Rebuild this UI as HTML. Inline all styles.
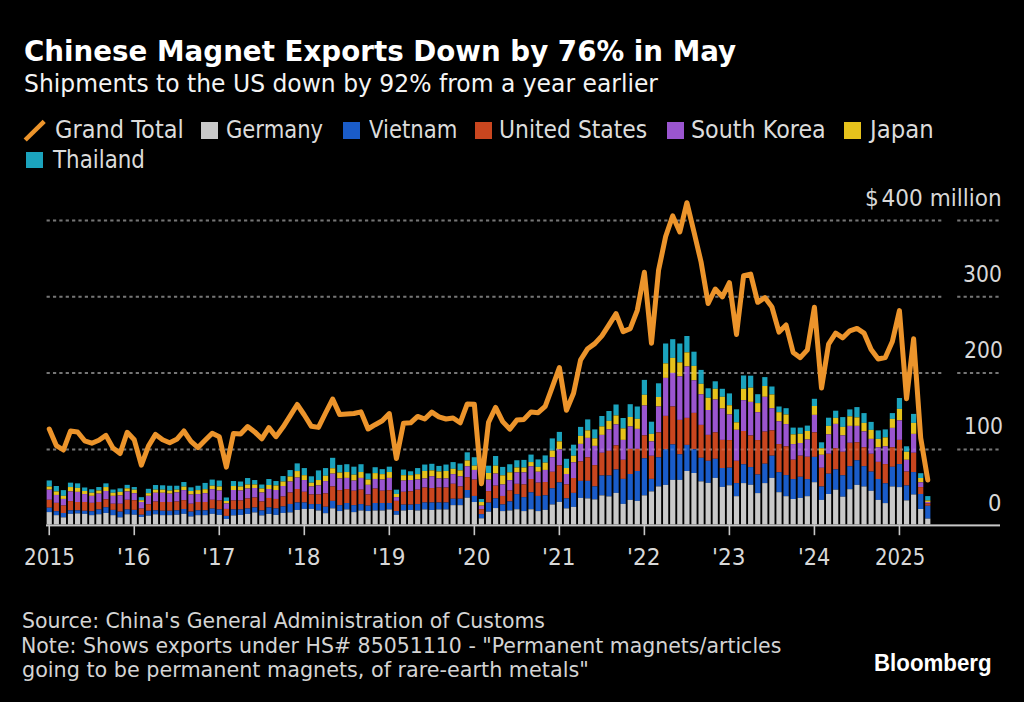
<!DOCTYPE html>
<html><head><meta charset="utf-8"><title>Chinese Magnet Exports Down by 76% in May</title>
<style>
html,body{margin:0;padding:0;background:#000;}
body{width:1024px;height:702px;position:relative;overflow:hidden;font-family:"DejaVu Sans","Liberation Sans",sans-serif;}
.t{position:absolute;white-space:nowrap;line-height:1;transform-origin:0 0;}
.sq{position:absolute;width:16.7px;height:16.5px;}
svg{position:absolute;left:0;top:0;}
.g{stroke:#ffffff;stroke-opacity:0.15;stroke-width:2;stroke-dasharray:3.2 3.168;}
.gb{stroke:#5e5e5e;stroke-width:2;stroke-dasharray:3.2 3.168;}
</style></head><body>
<svg width="1024" height="702" viewBox="0 0 1024 702">
<line x1="46.6" y1="220.5" x2="942" y2="220.5" class="gb"/>
<line x1="957.2" y1="220.5" x2="1000" y2="220.5" class="gb"/>
<line x1="46.6" y1="296.8" x2="942" y2="296.8" class="gb"/>
<line x1="957.2" y1="296.8" x2="1000" y2="296.8" class="gb"/>
<line x1="46.6" y1="373.0" x2="942" y2="373.0" class="gb"/>
<line x1="957.2" y1="373.0" x2="1000" y2="373.0" class="gb"/>
<line x1="46.6" y1="449.4" x2="942" y2="449.4" class="gb"/>
<line x1="957.2" y1="449.4" x2="1000" y2="449.4" class="gb"/>
<rect x="46.65" y="480.46" width="5.2" height="6.15" fill="#1ba3bd"/>
<rect x="46.65" y="486.61" width="5.2" height="3.08" fill="#e6c21c"/>
<rect x="46.65" y="489.69" width="5.2" height="10.11" fill="#9a55cf"/>
<rect x="46.65" y="499.80" width="5.2" height="7.91" fill="#c9461f"/>
<rect x="46.65" y="507.70" width="5.2" height="4.39" fill="#1a5cc9"/>
<rect x="46.65" y="512.10" width="5.2" height="12.30" fill="#c9c9c9"/>
<rect x="53.73" y="486.00" width="5.2" height="5.45" fill="#1ba3bd"/>
<rect x="53.73" y="491.45" width="5.2" height="3.51" fill="#e6c21c"/>
<rect x="53.73" y="494.96" width="5.2" height="7.91" fill="#9a55cf"/>
<rect x="53.73" y="502.87" width="5.2" height="8.35" fill="#c9461f"/>
<rect x="53.73" y="511.22" width="5.2" height="3.95" fill="#1a5cc9"/>
<rect x="53.73" y="515.17" width="5.2" height="9.23" fill="#c9c9c9"/>
<rect x="60.82" y="490.13" width="5.2" height="5.71" fill="#1ba3bd"/>
<rect x="60.82" y="495.84" width="5.2" height="3.08" fill="#e6c21c"/>
<rect x="60.82" y="498.92" width="5.2" height="6.59" fill="#9a55cf"/>
<rect x="60.82" y="505.51" width="5.2" height="7.47" fill="#c9461f"/>
<rect x="60.82" y="512.98" width="5.2" height="4.39" fill="#1a5cc9"/>
<rect x="60.82" y="517.37" width="5.2" height="7.03" fill="#c9c9c9"/>
<rect x="67.91" y="482.66" width="5.2" height="4.39" fill="#1ba3bd"/>
<rect x="67.91" y="487.05" width="5.2" height="4.39" fill="#e6c21c"/>
<rect x="67.91" y="491.45" width="5.2" height="9.67" fill="#9a55cf"/>
<rect x="67.91" y="501.11" width="5.2" height="9.23" fill="#c9461f"/>
<rect x="67.91" y="510.34" width="5.2" height="3.51" fill="#1a5cc9"/>
<rect x="67.91" y="513.86" width="5.2" height="10.54" fill="#c9c9c9"/>
<rect x="74.99" y="483.36" width="5.2" height="4.57" fill="#1ba3bd"/>
<rect x="74.99" y="487.93" width="5.2" height="3.95" fill="#e6c21c"/>
<rect x="74.99" y="491.89" width="5.2" height="10.11" fill="#9a55cf"/>
<rect x="74.99" y="501.99" width="5.2" height="8.35" fill="#c9461f"/>
<rect x="74.99" y="510.34" width="5.2" height="3.08" fill="#1a5cc9"/>
<rect x="74.99" y="513.42" width="5.2" height="10.98" fill="#c9c9c9"/>
<rect x="82.08" y="487.49" width="5.2" height="3.51" fill="#1ba3bd"/>
<rect x="82.08" y="491.01" width="5.2" height="3.08" fill="#e6c21c"/>
<rect x="82.08" y="494.08" width="5.2" height="7.91" fill="#9a55cf"/>
<rect x="82.08" y="501.99" width="5.2" height="8.79" fill="#c9461f"/>
<rect x="82.08" y="510.78" width="5.2" height="3.08" fill="#1a5cc9"/>
<rect x="82.08" y="513.86" width="5.2" height="10.54" fill="#c9c9c9"/>
<rect x="89.16" y="489.25" width="5.2" height="3.51" fill="#1ba3bd"/>
<rect x="89.16" y="492.77" width="5.2" height="3.08" fill="#e6c21c"/>
<rect x="89.16" y="495.84" width="5.2" height="7.03" fill="#9a55cf"/>
<rect x="89.16" y="502.87" width="5.2" height="8.35" fill="#c9461f"/>
<rect x="89.16" y="511.22" width="5.2" height="3.95" fill="#1a5cc9"/>
<rect x="89.16" y="515.17" width="5.2" height="9.23" fill="#c9c9c9"/>
<rect x="96.25" y="487.05" width="5.2" height="3.51" fill="#1ba3bd"/>
<rect x="96.25" y="490.57" width="5.2" height="3.08" fill="#e6c21c"/>
<rect x="96.25" y="493.64" width="5.2" height="8.35" fill="#9a55cf"/>
<rect x="96.25" y="501.99" width="5.2" height="7.47" fill="#c9461f"/>
<rect x="96.25" y="509.46" width="5.2" height="4.83" fill="#1a5cc9"/>
<rect x="96.25" y="514.29" width="5.2" height="10.11" fill="#c9c9c9"/>
<rect x="103.33" y="483.36" width="5.2" height="3.69" fill="#1ba3bd"/>
<rect x="103.33" y="487.05" width="5.2" height="3.95" fill="#e6c21c"/>
<rect x="103.33" y="491.01" width="5.2" height="8.35" fill="#9a55cf"/>
<rect x="103.33" y="499.36" width="5.2" height="7.91" fill="#c9461f"/>
<rect x="103.33" y="507.26" width="5.2" height="5.71" fill="#1a5cc9"/>
<rect x="103.33" y="512.98" width="5.2" height="11.42" fill="#c9c9c9"/>
<rect x="110.42" y="489.51" width="5.2" height="3.25" fill="#1ba3bd"/>
<rect x="110.42" y="492.77" width="5.2" height="3.08" fill="#e6c21c"/>
<rect x="110.42" y="495.84" width="5.2" height="7.91" fill="#9a55cf"/>
<rect x="110.42" y="503.75" width="5.2" height="6.15" fill="#c9461f"/>
<rect x="110.42" y="509.90" width="5.2" height="5.27" fill="#1a5cc9"/>
<rect x="110.42" y="515.17" width="5.2" height="9.23" fill="#c9c9c9"/>
<rect x="117.50" y="488.37" width="5.2" height="3.51" fill="#1ba3bd"/>
<rect x="117.50" y="491.89" width="5.2" height="3.51" fill="#e6c21c"/>
<rect x="117.50" y="495.40" width="5.2" height="8.35" fill="#9a55cf"/>
<rect x="117.50" y="503.75" width="5.2" height="7.91" fill="#c9461f"/>
<rect x="117.50" y="511.66" width="5.2" height="5.71" fill="#1a5cc9"/>
<rect x="117.50" y="517.37" width="5.2" height="7.03" fill="#c9c9c9"/>
<rect x="124.59" y="484.86" width="5.2" height="3.51" fill="#1ba3bd"/>
<rect x="124.59" y="488.37" width="5.2" height="3.08" fill="#e6c21c"/>
<rect x="124.59" y="491.45" width="5.2" height="8.35" fill="#9a55cf"/>
<rect x="124.59" y="499.80" width="5.2" height="9.67" fill="#c9461f"/>
<rect x="124.59" y="509.46" width="5.2" height="4.83" fill="#1a5cc9"/>
<rect x="124.59" y="514.29" width="5.2" height="10.11" fill="#c9c9c9"/>
<rect x="131.67" y="487.05" width="5.2" height="2.64" fill="#1ba3bd"/>
<rect x="131.67" y="489.69" width="5.2" height="3.51" fill="#e6c21c"/>
<rect x="131.67" y="493.20" width="5.2" height="7.03" fill="#9a55cf"/>
<rect x="131.67" y="500.23" width="5.2" height="9.67" fill="#c9461f"/>
<rect x="131.67" y="509.90" width="5.2" height="4.83" fill="#1a5cc9"/>
<rect x="131.67" y="514.73" width="5.2" height="9.67" fill="#c9c9c9"/>
<rect x="138.76" y="497.16" width="5.2" height="3.08" fill="#1ba3bd"/>
<rect x="138.76" y="500.23" width="5.2" height="1.76" fill="#e6c21c"/>
<rect x="138.76" y="501.99" width="5.2" height="6.59" fill="#9a55cf"/>
<rect x="138.76" y="508.58" width="5.2" height="6.15" fill="#c9461f"/>
<rect x="138.76" y="514.73" width="5.2" height="2.20" fill="#1a5cc9"/>
<rect x="138.76" y="516.93" width="5.2" height="7.47" fill="#c9c9c9"/>
<rect x="145.84" y="488.81" width="5.2" height="4.39" fill="#1ba3bd"/>
<rect x="145.84" y="493.20" width="5.2" height="2.64" fill="#e6c21c"/>
<rect x="145.84" y="495.84" width="5.2" height="8.35" fill="#9a55cf"/>
<rect x="145.84" y="504.19" width="5.2" height="6.59" fill="#c9461f"/>
<rect x="145.84" y="510.78" width="5.2" height="4.83" fill="#1a5cc9"/>
<rect x="145.84" y="515.61" width="5.2" height="8.79" fill="#c9c9c9"/>
<rect x="152.93" y="485.03" width="5.2" height="4.66" fill="#1ba3bd"/>
<rect x="152.93" y="489.69" width="5.2" height="3.08" fill="#e6c21c"/>
<rect x="152.93" y="492.77" width="5.2" height="8.79" fill="#9a55cf"/>
<rect x="152.93" y="501.55" width="5.2" height="8.79" fill="#c9461f"/>
<rect x="152.93" y="510.34" width="5.2" height="3.95" fill="#1a5cc9"/>
<rect x="152.93" y="514.29" width="5.2" height="10.11" fill="#c9c9c9"/>
<rect x="160.01" y="485.30" width="5.2" height="4.39" fill="#1ba3bd"/>
<rect x="160.01" y="489.69" width="5.2" height="3.08" fill="#e6c21c"/>
<rect x="160.01" y="492.77" width="5.2" height="9.23" fill="#9a55cf"/>
<rect x="160.01" y="501.99" width="5.2" height="8.79" fill="#c9461f"/>
<rect x="160.01" y="510.78" width="5.2" height="4.39" fill="#1a5cc9"/>
<rect x="160.01" y="515.17" width="5.2" height="9.23" fill="#c9c9c9"/>
<rect x="167.09" y="485.74" width="5.2" height="4.83" fill="#1ba3bd"/>
<rect x="167.09" y="490.57" width="5.2" height="3.08" fill="#e6c21c"/>
<rect x="167.09" y="493.64" width="5.2" height="8.35" fill="#9a55cf"/>
<rect x="167.09" y="501.99" width="5.2" height="8.79" fill="#c9461f"/>
<rect x="167.09" y="510.78" width="5.2" height="4.39" fill="#1a5cc9"/>
<rect x="167.09" y="515.17" width="5.2" height="9.23" fill="#c9c9c9"/>
<rect x="174.18" y="485.74" width="5.2" height="3.95" fill="#1ba3bd"/>
<rect x="174.18" y="489.69" width="5.2" height="2.64" fill="#e6c21c"/>
<rect x="174.18" y="492.33" width="5.2" height="9.23" fill="#9a55cf"/>
<rect x="174.18" y="501.55" width="5.2" height="8.79" fill="#c9461f"/>
<rect x="174.18" y="510.34" width="5.2" height="4.39" fill="#1a5cc9"/>
<rect x="174.18" y="514.73" width="5.2" height="9.67" fill="#c9c9c9"/>
<rect x="181.27" y="482.04" width="5.2" height="4.57" fill="#1ba3bd"/>
<rect x="181.27" y="486.61" width="5.2" height="3.51" fill="#e6c21c"/>
<rect x="181.27" y="490.13" width="5.2" height="10.11" fill="#9a55cf"/>
<rect x="181.27" y="500.23" width="5.2" height="8.79" fill="#c9461f"/>
<rect x="181.27" y="509.02" width="5.2" height="4.83" fill="#1a5cc9"/>
<rect x="181.27" y="513.86" width="5.2" height="10.54" fill="#c9c9c9"/>
<rect x="188.35" y="487.32" width="5.2" height="3.69" fill="#1ba3bd"/>
<rect x="188.35" y="491.01" width="5.2" height="3.51" fill="#e6c21c"/>
<rect x="188.35" y="494.52" width="5.2" height="9.23" fill="#9a55cf"/>
<rect x="188.35" y="503.75" width="5.2" height="7.91" fill="#c9461f"/>
<rect x="188.35" y="511.66" width="5.2" height="4.83" fill="#1a5cc9"/>
<rect x="188.35" y="516.49" width="5.2" height="7.91" fill="#c9c9c9"/>
<rect x="195.44" y="485.74" width="5.2" height="4.39" fill="#1ba3bd"/>
<rect x="195.44" y="490.13" width="5.2" height="3.95" fill="#e6c21c"/>
<rect x="195.44" y="494.08" width="5.2" height="7.91" fill="#9a55cf"/>
<rect x="195.44" y="501.99" width="5.2" height="8.35" fill="#c9461f"/>
<rect x="195.44" y="510.34" width="5.2" height="4.83" fill="#1a5cc9"/>
<rect x="195.44" y="515.17" width="5.2" height="9.23" fill="#c9c9c9"/>
<rect x="202.52" y="482.92" width="5.2" height="6.33" fill="#1ba3bd"/>
<rect x="202.52" y="489.25" width="5.2" height="3.95" fill="#e6c21c"/>
<rect x="202.52" y="493.20" width="5.2" height="8.79" fill="#9a55cf"/>
<rect x="202.52" y="501.99" width="5.2" height="8.35" fill="#c9461f"/>
<rect x="202.52" y="510.34" width="5.2" height="4.83" fill="#1a5cc9"/>
<rect x="202.52" y="515.17" width="5.2" height="9.23" fill="#c9c9c9"/>
<rect x="209.61" y="479.58" width="5.2" height="6.15" fill="#1ba3bd"/>
<rect x="209.61" y="485.74" width="5.2" height="3.51" fill="#e6c21c"/>
<rect x="209.61" y="489.25" width="5.2" height="10.54" fill="#9a55cf"/>
<rect x="209.61" y="499.80" width="5.2" height="8.79" fill="#c9461f"/>
<rect x="209.61" y="508.58" width="5.2" height="5.27" fill="#1a5cc9"/>
<rect x="209.61" y="513.86" width="5.2" height="10.54" fill="#c9c9c9"/>
<rect x="216.69" y="480.53" width="5.2" height="5.98" fill="#1ba3bd"/>
<rect x="216.69" y="486.51" width="5.2" height="3.99" fill="#e6c21c"/>
<rect x="216.69" y="490.50" width="5.2" height="9.97" fill="#9a55cf"/>
<rect x="216.69" y="500.47" width="5.2" height="8.97" fill="#c9461f"/>
<rect x="216.69" y="509.44" width="5.2" height="5.48" fill="#1a5cc9"/>
<rect x="216.69" y="514.93" width="5.2" height="9.47" fill="#c9c9c9"/>
<rect x="223.78" y="497.48" width="5.2" height="3.49" fill="#1ba3bd"/>
<rect x="223.78" y="500.97" width="5.2" height="2.49" fill="#e6c21c"/>
<rect x="223.78" y="503.46" width="5.2" height="5.48" fill="#9a55cf"/>
<rect x="223.78" y="508.95" width="5.2" height="6.98" fill="#c9461f"/>
<rect x="223.78" y="515.93" width="5.2" height="2.99" fill="#1a5cc9"/>
<rect x="223.78" y="518.92" width="5.2" height="5.48" fill="#c9c9c9"/>
<rect x="230.86" y="481.03" width="5.2" height="4.99" fill="#1ba3bd"/>
<rect x="230.86" y="486.02" width="5.2" height="3.99" fill="#e6c21c"/>
<rect x="230.86" y="490.00" width="5.2" height="10.47" fill="#9a55cf"/>
<rect x="230.86" y="500.47" width="5.2" height="8.97" fill="#c9461f"/>
<rect x="230.86" y="509.44" width="5.2" height="5.98" fill="#1a5cc9"/>
<rect x="230.86" y="515.43" width="5.2" height="8.97" fill="#c9c9c9"/>
<rect x="237.94" y="481.53" width="5.2" height="4.99" fill="#1ba3bd"/>
<rect x="237.94" y="486.51" width="5.2" height="3.99" fill="#e6c21c"/>
<rect x="237.94" y="490.50" width="5.2" height="9.97" fill="#9a55cf"/>
<rect x="237.94" y="500.47" width="5.2" height="8.97" fill="#c9461f"/>
<rect x="237.94" y="509.44" width="5.2" height="5.48" fill="#1a5cc9"/>
<rect x="237.94" y="514.93" width="5.2" height="9.47" fill="#c9c9c9"/>
<rect x="245.03" y="478.04" width="5.2" height="6.48" fill="#1ba3bd"/>
<rect x="245.03" y="484.52" width="5.2" height="3.99" fill="#e6c21c"/>
<rect x="245.03" y="488.51" width="5.2" height="9.97" fill="#9a55cf"/>
<rect x="245.03" y="498.48" width="5.2" height="9.97" fill="#c9461f"/>
<rect x="245.03" y="508.45" width="5.2" height="5.48" fill="#1a5cc9"/>
<rect x="245.03" y="513.93" width="5.2" height="10.47" fill="#c9c9c9"/>
<rect x="252.12" y="480.03" width="5.2" height="4.49" fill="#1ba3bd"/>
<rect x="252.12" y="484.52" width="5.2" height="3.49" fill="#e6c21c"/>
<rect x="252.12" y="488.01" width="5.2" height="9.47" fill="#9a55cf"/>
<rect x="252.12" y="497.48" width="5.2" height="9.97" fill="#c9461f"/>
<rect x="252.12" y="507.45" width="5.2" height="4.99" fill="#1a5cc9"/>
<rect x="252.12" y="512.44" width="5.2" height="11.96" fill="#c9c9c9"/>
<rect x="259.20" y="484.52" width="5.2" height="3.99" fill="#1ba3bd"/>
<rect x="259.20" y="488.51" width="5.2" height="3.99" fill="#e6c21c"/>
<rect x="259.20" y="492.50" width="5.2" height="8.97" fill="#9a55cf"/>
<rect x="259.20" y="501.47" width="5.2" height="8.97" fill="#c9461f"/>
<rect x="259.20" y="510.44" width="5.2" height="4.99" fill="#1a5cc9"/>
<rect x="259.20" y="515.43" width="5.2" height="8.97" fill="#c9c9c9"/>
<rect x="266.28" y="479.04" width="5.2" height="5.98" fill="#1ba3bd"/>
<rect x="266.28" y="485.02" width="5.2" height="3.99" fill="#e6c21c"/>
<rect x="266.28" y="489.01" width="5.2" height="8.97" fill="#9a55cf"/>
<rect x="266.28" y="497.98" width="5.2" height="9.47" fill="#c9461f"/>
<rect x="266.28" y="507.45" width="5.2" height="6.48" fill="#1a5cc9"/>
<rect x="266.28" y="513.93" width="5.2" height="10.47" fill="#c9c9c9"/>
<rect x="273.37" y="481.03" width="5.2" height="4.49" fill="#1ba3bd"/>
<rect x="273.37" y="485.52" width="5.2" height="4.49" fill="#e6c21c"/>
<rect x="273.37" y="490.00" width="5.2" height="8.97" fill="#9a55cf"/>
<rect x="273.37" y="498.98" width="5.2" height="9.47" fill="#c9461f"/>
<rect x="273.37" y="508.45" width="5.2" height="6.48" fill="#1a5cc9"/>
<rect x="273.37" y="514.93" width="5.2" height="9.47" fill="#c9c9c9"/>
<rect x="280.45" y="476.05" width="5.2" height="5.48" fill="#1ba3bd"/>
<rect x="280.45" y="481.53" width="5.2" height="4.49" fill="#e6c21c"/>
<rect x="280.45" y="486.02" width="5.2" height="10.47" fill="#9a55cf"/>
<rect x="280.45" y="496.48" width="5.2" height="9.97" fill="#c9461f"/>
<rect x="280.45" y="506.45" width="5.2" height="6.48" fill="#1a5cc9"/>
<rect x="280.45" y="512.93" width="5.2" height="11.47" fill="#c9c9c9"/>
<rect x="287.54" y="470.06" width="5.2" height="6.48" fill="#1ba3bd"/>
<rect x="287.54" y="476.54" width="5.2" height="4.99" fill="#e6c21c"/>
<rect x="287.54" y="481.53" width="5.2" height="10.97" fill="#9a55cf"/>
<rect x="287.54" y="492.50" width="5.2" height="11.47" fill="#c9461f"/>
<rect x="287.54" y="503.96" width="5.2" height="8.47" fill="#1a5cc9"/>
<rect x="287.54" y="512.44" width="5.2" height="11.96" fill="#c9c9c9"/>
<rect x="294.62" y="463.38" width="5.2" height="7.68" fill="#1ba3bd"/>
<rect x="294.62" y="471.06" width="5.2" height="6.48" fill="#e6c21c"/>
<rect x="294.62" y="477.54" width="5.2" height="11.47" fill="#9a55cf"/>
<rect x="294.62" y="489.01" width="5.2" height="13.46" fill="#c9461f"/>
<rect x="294.62" y="502.47" width="5.2" height="7.48" fill="#1a5cc9"/>
<rect x="294.62" y="509.94" width="5.2" height="14.46" fill="#c9c9c9"/>
<rect x="301.71" y="468.07" width="5.2" height="7.16" fill="#1ba3bd"/>
<rect x="301.71" y="475.23" width="5.2" height="4.81" fill="#e6c21c"/>
<rect x="301.71" y="480.04" width="5.2" height="11.76" fill="#9a55cf"/>
<rect x="301.71" y="491.80" width="5.2" height="10.69" fill="#c9461f"/>
<rect x="301.71" y="502.49" width="5.2" height="6.41" fill="#1a5cc9"/>
<rect x="301.71" y="508.90" width="5.2" height="15.50" fill="#c9c9c9"/>
<rect x="308.79" y="476.30" width="5.2" height="6.41" fill="#1ba3bd"/>
<rect x="308.79" y="482.72" width="5.2" height="3.74" fill="#e6c21c"/>
<rect x="308.79" y="486.46" width="5.2" height="8.02" fill="#9a55cf"/>
<rect x="308.79" y="494.47" width="5.2" height="9.62" fill="#c9461f"/>
<rect x="308.79" y="504.09" width="5.2" height="4.81" fill="#1a5cc9"/>
<rect x="308.79" y="508.90" width="5.2" height="15.50" fill="#c9c9c9"/>
<rect x="315.88" y="470.42" width="5.2" height="9.62" fill="#1ba3bd"/>
<rect x="315.88" y="480.04" width="5.2" height="5.34" fill="#e6c21c"/>
<rect x="315.88" y="485.39" width="5.2" height="9.09" fill="#9a55cf"/>
<rect x="315.88" y="494.47" width="5.2" height="9.62" fill="#c9461f"/>
<rect x="315.88" y="504.09" width="5.2" height="6.41" fill="#1a5cc9"/>
<rect x="315.88" y="510.51" width="5.2" height="13.89" fill="#c9c9c9"/>
<rect x="322.96" y="468.07" width="5.2" height="7.70" fill="#1ba3bd"/>
<rect x="322.96" y="475.77" width="5.2" height="5.34" fill="#e6c21c"/>
<rect x="322.96" y="481.11" width="5.2" height="12.29" fill="#9a55cf"/>
<rect x="322.96" y="493.40" width="5.2" height="13.36" fill="#c9461f"/>
<rect x="322.96" y="506.76" width="5.2" height="6.41" fill="#1a5cc9"/>
<rect x="322.96" y="513.18" width="5.2" height="11.22" fill="#c9c9c9"/>
<rect x="330.05" y="457.81" width="5.2" height="10.47" fill="#1ba3bd"/>
<rect x="330.05" y="468.29" width="5.2" height="5.34" fill="#e6c21c"/>
<rect x="330.05" y="473.63" width="5.2" height="12.83" fill="#9a55cf"/>
<rect x="330.05" y="486.46" width="5.2" height="14.43" fill="#c9461f"/>
<rect x="330.05" y="500.89" width="5.2" height="7.48" fill="#1a5cc9"/>
<rect x="330.05" y="508.37" width="5.2" height="16.03" fill="#c9c9c9"/>
<rect x="337.13" y="464.87" width="5.2" height="7.70" fill="#1ba3bd"/>
<rect x="337.13" y="472.56" width="5.2" height="5.88" fill="#e6c21c"/>
<rect x="337.13" y="478.44" width="5.2" height="11.76" fill="#9a55cf"/>
<rect x="337.13" y="490.20" width="5.2" height="14.96" fill="#c9461f"/>
<rect x="337.13" y="505.16" width="5.2" height="5.88" fill="#1a5cc9"/>
<rect x="337.13" y="511.04" width="5.2" height="13.36" fill="#c9c9c9"/>
<rect x="344.22" y="464.22" width="5.2" height="7.80" fill="#1ba3bd"/>
<rect x="344.22" y="472.03" width="5.2" height="5.88" fill="#e6c21c"/>
<rect x="344.22" y="477.91" width="5.2" height="11.22" fill="#9a55cf"/>
<rect x="344.22" y="489.13" width="5.2" height="13.89" fill="#c9461f"/>
<rect x="344.22" y="503.02" width="5.2" height="6.41" fill="#1a5cc9"/>
<rect x="344.22" y="509.44" width="5.2" height="14.96" fill="#c9c9c9"/>
<rect x="351.30" y="466.68" width="5.2" height="8.02" fill="#1ba3bd"/>
<rect x="351.30" y="474.70" width="5.2" height="5.88" fill="#e6c21c"/>
<rect x="351.30" y="480.58" width="5.2" height="10.15" fill="#9a55cf"/>
<rect x="351.30" y="490.73" width="5.2" height="14.43" fill="#c9461f"/>
<rect x="351.30" y="505.16" width="5.2" height="6.95" fill="#1a5cc9"/>
<rect x="351.30" y="512.11" width="5.2" height="12.29" fill="#c9c9c9"/>
<rect x="358.39" y="464.22" width="5.2" height="7.80" fill="#1ba3bd"/>
<rect x="358.39" y="472.03" width="5.2" height="5.88" fill="#e6c21c"/>
<rect x="358.39" y="477.91" width="5.2" height="11.76" fill="#9a55cf"/>
<rect x="358.39" y="489.66" width="5.2" height="14.43" fill="#c9461f"/>
<rect x="358.39" y="504.09" width="5.2" height="6.41" fill="#1a5cc9"/>
<rect x="358.39" y="510.51" width="5.2" height="13.89" fill="#c9c9c9"/>
<rect x="365.47" y="473.42" width="5.2" height="6.09" fill="#1ba3bd"/>
<rect x="365.47" y="479.51" width="5.2" height="5.34" fill="#e6c21c"/>
<rect x="365.47" y="484.85" width="5.2" height="9.62" fill="#9a55cf"/>
<rect x="365.47" y="494.47" width="5.2" height="11.22" fill="#c9461f"/>
<rect x="365.47" y="505.70" width="5.2" height="5.34" fill="#1a5cc9"/>
<rect x="365.47" y="511.04" width="5.2" height="13.36" fill="#c9c9c9"/>
<rect x="372.56" y="467.22" width="5.2" height="5.88" fill="#1ba3bd"/>
<rect x="372.56" y="473.10" width="5.2" height="5.88" fill="#e6c21c"/>
<rect x="372.56" y="478.97" width="5.2" height="9.62" fill="#9a55cf"/>
<rect x="372.56" y="488.59" width="5.2" height="14.43" fill="#c9461f"/>
<rect x="372.56" y="503.02" width="5.2" height="7.48" fill="#1a5cc9"/>
<rect x="372.56" y="510.51" width="5.2" height="13.89" fill="#c9c9c9"/>
<rect x="379.64" y="469.14" width="5.2" height="5.02" fill="#1ba3bd"/>
<rect x="379.64" y="474.16" width="5.2" height="5.34" fill="#e6c21c"/>
<rect x="379.64" y="479.51" width="5.2" height="11.22" fill="#9a55cf"/>
<rect x="379.64" y="490.73" width="5.2" height="12.29" fill="#c9461f"/>
<rect x="379.64" y="503.02" width="5.2" height="7.48" fill="#1a5cc9"/>
<rect x="379.64" y="510.51" width="5.2" height="13.89" fill="#c9c9c9"/>
<rect x="386.73" y="466.68" width="5.2" height="5.34" fill="#1ba3bd"/>
<rect x="386.73" y="472.03" width="5.2" height="5.88" fill="#e6c21c"/>
<rect x="386.73" y="477.91" width="5.2" height="12.29" fill="#9a55cf"/>
<rect x="386.73" y="490.20" width="5.2" height="12.83" fill="#c9461f"/>
<rect x="386.73" y="503.02" width="5.2" height="6.41" fill="#1a5cc9"/>
<rect x="386.73" y="509.44" width="5.2" height="14.96" fill="#c9c9c9"/>
<rect x="393.81" y="489.66" width="5.2" height="4.28" fill="#1ba3bd"/>
<rect x="393.81" y="493.94" width="5.2" height="3.21" fill="#e6c21c"/>
<rect x="393.81" y="497.14" width="5.2" height="3.74" fill="#9a55cf"/>
<rect x="393.81" y="500.89" width="5.2" height="10.15" fill="#c9461f"/>
<rect x="393.81" y="511.04" width="5.2" height="3.74" fill="#1a5cc9"/>
<rect x="393.81" y="514.78" width="5.2" height="9.62" fill="#c9c9c9"/>
<rect x="400.90" y="469.57" width="5.2" height="5.66" fill="#1ba3bd"/>
<rect x="400.90" y="475.23" width="5.2" height="5.34" fill="#e6c21c"/>
<rect x="400.90" y="480.58" width="5.2" height="11.22" fill="#9a55cf"/>
<rect x="400.90" y="491.80" width="5.2" height="12.83" fill="#c9461f"/>
<rect x="400.90" y="504.63" width="5.2" height="5.88" fill="#1a5cc9"/>
<rect x="400.90" y="510.51" width="5.2" height="13.89" fill="#c9c9c9"/>
<rect x="407.98" y="471.28" width="5.2" height="3.95" fill="#1ba3bd"/>
<rect x="407.98" y="475.23" width="5.2" height="4.81" fill="#e6c21c"/>
<rect x="407.98" y="480.04" width="5.2" height="11.22" fill="#9a55cf"/>
<rect x="407.98" y="491.27" width="5.2" height="13.36" fill="#c9461f"/>
<rect x="407.98" y="504.63" width="5.2" height="5.34" fill="#1a5cc9"/>
<rect x="407.98" y="509.97" width="5.2" height="14.43" fill="#c9c9c9"/>
<rect x="415.07" y="468.07" width="5.2" height="6.09" fill="#1ba3bd"/>
<rect x="415.07" y="474.16" width="5.2" height="5.34" fill="#e6c21c"/>
<rect x="415.07" y="479.51" width="5.2" height="10.15" fill="#9a55cf"/>
<rect x="415.07" y="489.66" width="5.2" height="14.43" fill="#c9461f"/>
<rect x="415.07" y="504.09" width="5.2" height="6.41" fill="#1a5cc9"/>
<rect x="415.07" y="510.51" width="5.2" height="13.89" fill="#c9c9c9"/>
<rect x="422.15" y="464.55" width="5.2" height="6.41" fill="#1ba3bd"/>
<rect x="422.15" y="470.96" width="5.2" height="7.48" fill="#e6c21c"/>
<rect x="422.15" y="478.44" width="5.2" height="9.09" fill="#9a55cf"/>
<rect x="422.15" y="487.53" width="5.2" height="14.96" fill="#c9461f"/>
<rect x="422.15" y="502.49" width="5.2" height="6.95" fill="#1a5cc9"/>
<rect x="422.15" y="509.44" width="5.2" height="14.96" fill="#c9c9c9"/>
<rect x="429.24" y="463.80" width="5.2" height="6.63" fill="#1ba3bd"/>
<rect x="429.24" y="470.42" width="5.2" height="5.88" fill="#e6c21c"/>
<rect x="429.24" y="476.30" width="5.2" height="11.76" fill="#9a55cf"/>
<rect x="429.24" y="488.06" width="5.2" height="14.43" fill="#c9461f"/>
<rect x="429.24" y="502.49" width="5.2" height="7.48" fill="#1a5cc9"/>
<rect x="429.24" y="509.97" width="5.2" height="14.43" fill="#c9c9c9"/>
<rect x="436.32" y="465.93" width="5.2" height="5.56" fill="#1ba3bd"/>
<rect x="436.32" y="471.49" width="5.2" height="6.95" fill="#e6c21c"/>
<rect x="436.32" y="478.44" width="5.2" height="9.09" fill="#9a55cf"/>
<rect x="436.32" y="487.53" width="5.2" height="14.96" fill="#c9461f"/>
<rect x="436.32" y="502.49" width="5.2" height="6.95" fill="#1a5cc9"/>
<rect x="436.32" y="509.44" width="5.2" height="14.96" fill="#c9c9c9"/>
<rect x="443.41" y="464.55" width="5.2" height="6.41" fill="#1ba3bd"/>
<rect x="443.41" y="470.96" width="5.2" height="7.48" fill="#e6c21c"/>
<rect x="443.41" y="478.44" width="5.2" height="9.09" fill="#9a55cf"/>
<rect x="443.41" y="487.53" width="5.2" height="14.96" fill="#c9461f"/>
<rect x="443.41" y="502.49" width="5.2" height="6.95" fill="#1a5cc9"/>
<rect x="443.41" y="509.44" width="5.2" height="14.96" fill="#c9c9c9"/>
<rect x="450.49" y="462.09" width="5.2" height="6.73" fill="#1ba3bd"/>
<rect x="450.49" y="468.82" width="5.2" height="5.34" fill="#e6c21c"/>
<rect x="450.49" y="474.16" width="5.2" height="9.62" fill="#9a55cf"/>
<rect x="450.49" y="483.78" width="5.2" height="14.96" fill="#c9461f"/>
<rect x="450.49" y="498.75" width="5.2" height="6.41" fill="#1a5cc9"/>
<rect x="450.49" y="505.16" width="5.2" height="19.24" fill="#c9c9c9"/>
<rect x="457.58" y="463.48" width="5.2" height="6.95" fill="#1ba3bd"/>
<rect x="457.58" y="470.42" width="5.2" height="5.88" fill="#e6c21c"/>
<rect x="457.58" y="476.30" width="5.2" height="10.15" fill="#9a55cf"/>
<rect x="457.58" y="486.46" width="5.2" height="12.29" fill="#c9461f"/>
<rect x="457.58" y="498.75" width="5.2" height="6.41" fill="#1a5cc9"/>
<rect x="457.58" y="505.16" width="5.2" height="19.24" fill="#c9c9c9"/>
<rect x="464.66" y="452.30" width="5.2" height="8.20" fill="#1ba3bd"/>
<rect x="464.66" y="460.50" width="5.2" height="5.80" fill="#e6c21c"/>
<rect x="464.66" y="466.30" width="5.2" height="10.90" fill="#9a55cf"/>
<rect x="464.66" y="477.20" width="5.2" height="12.80" fill="#c9461f"/>
<rect x="464.66" y="490.00" width="5.2" height="7.70" fill="#1a5cc9"/>
<rect x="464.66" y="497.70" width="5.2" height="26.70" fill="#c9c9c9"/>
<rect x="471.75" y="457.23" width="5.2" height="8.47" fill="#1ba3bd"/>
<rect x="471.75" y="465.70" width="5.2" height="4.24" fill="#e6c21c"/>
<rect x="471.75" y="469.94" width="5.2" height="9.68" fill="#9a55cf"/>
<rect x="471.75" y="479.62" width="5.2" height="16.34" fill="#c9461f"/>
<rect x="471.75" y="495.96" width="5.2" height="6.05" fill="#1a5cc9"/>
<rect x="471.75" y="502.01" width="5.2" height="22.39" fill="#c9c9c9"/>
<rect x="478.83" y="498.99" width="5.2" height="3.03" fill="#1ba3bd"/>
<rect x="478.83" y="502.01" width="5.2" height="3.63" fill="#e6c21c"/>
<rect x="478.83" y="505.64" width="5.2" height="3.63" fill="#9a55cf"/>
<rect x="478.83" y="509.27" width="5.2" height="4.84" fill="#c9461f"/>
<rect x="478.83" y="514.11" width="5.2" height="4.24" fill="#1a5cc9"/>
<rect x="478.83" y="518.35" width="5.2" height="6.05" fill="#c9c9c9"/>
<rect x="485.92" y="465.70" width="5.2" height="7.26" fill="#1ba3bd"/>
<rect x="485.92" y="472.97" width="5.2" height="6.66" fill="#e6c21c"/>
<rect x="485.92" y="479.62" width="5.2" height="11.50" fill="#9a55cf"/>
<rect x="485.92" y="491.12" width="5.2" height="11.50" fill="#c9461f"/>
<rect x="485.92" y="502.62" width="5.2" height="9.08" fill="#1a5cc9"/>
<rect x="485.92" y="511.69" width="5.2" height="12.71" fill="#c9c9c9"/>
<rect x="493.00" y="456.02" width="5.2" height="9.68" fill="#1ba3bd"/>
<rect x="493.00" y="465.70" width="5.2" height="7.87" fill="#e6c21c"/>
<rect x="493.00" y="473.57" width="5.2" height="12.10" fill="#9a55cf"/>
<rect x="493.00" y="485.67" width="5.2" height="12.71" fill="#c9461f"/>
<rect x="493.00" y="498.38" width="5.2" height="9.68" fill="#1a5cc9"/>
<rect x="493.00" y="508.06" width="5.2" height="16.34" fill="#c9c9c9"/>
<rect x="500.09" y="466.91" width="5.2" height="8.47" fill="#1ba3bd"/>
<rect x="500.09" y="475.39" width="5.2" height="9.08" fill="#e6c21c"/>
<rect x="500.09" y="484.46" width="5.2" height="11.50" fill="#9a55cf"/>
<rect x="500.09" y="495.96" width="5.2" height="8.47" fill="#c9461f"/>
<rect x="500.09" y="504.43" width="5.2" height="6.66" fill="#1a5cc9"/>
<rect x="500.09" y="511.09" width="5.2" height="13.31" fill="#c9c9c9"/>
<rect x="507.17" y="464.25" width="5.2" height="8.11" fill="#1ba3bd"/>
<rect x="507.17" y="472.36" width="5.2" height="7.87" fill="#e6c21c"/>
<rect x="507.17" y="480.23" width="5.2" height="10.29" fill="#9a55cf"/>
<rect x="507.17" y="490.51" width="5.2" height="10.89" fill="#c9461f"/>
<rect x="507.17" y="501.41" width="5.2" height="9.08" fill="#1a5cc9"/>
<rect x="507.17" y="510.48" width="5.2" height="13.92" fill="#c9c9c9"/>
<rect x="514.26" y="460.26" width="5.2" height="7.26" fill="#1ba3bd"/>
<rect x="514.26" y="467.52" width="5.2" height="4.84" fill="#e6c21c"/>
<rect x="514.26" y="472.36" width="5.2" height="11.50" fill="#9a55cf"/>
<rect x="514.26" y="483.86" width="5.2" height="10.29" fill="#c9461f"/>
<rect x="514.26" y="494.14" width="5.2" height="15.13" fill="#1a5cc9"/>
<rect x="514.26" y="509.27" width="5.2" height="15.13" fill="#c9c9c9"/>
<rect x="521.34" y="459.90" width="5.2" height="7.62" fill="#1ba3bd"/>
<rect x="521.34" y="467.52" width="5.2" height="4.84" fill="#e6c21c"/>
<rect x="521.34" y="472.36" width="5.2" height="12.10" fill="#9a55cf"/>
<rect x="521.34" y="484.46" width="5.2" height="12.71" fill="#c9461f"/>
<rect x="521.34" y="497.17" width="5.2" height="13.92" fill="#1a5cc9"/>
<rect x="521.34" y="511.09" width="5.2" height="13.31" fill="#c9c9c9"/>
<rect x="528.43" y="454.57" width="5.2" height="7.50" fill="#1ba3bd"/>
<rect x="528.43" y="462.07" width="5.2" height="4.24" fill="#e6c21c"/>
<rect x="528.43" y="466.31" width="5.2" height="12.71" fill="#9a55cf"/>
<rect x="528.43" y="479.02" width="5.2" height="13.31" fill="#c9461f"/>
<rect x="528.43" y="492.33" width="5.2" height="16.94" fill="#1a5cc9"/>
<rect x="528.43" y="509.27" width="5.2" height="15.13" fill="#c9c9c9"/>
<rect x="535.51" y="459.41" width="5.2" height="7.50" fill="#1ba3bd"/>
<rect x="535.51" y="466.91" width="5.2" height="4.84" fill="#e6c21c"/>
<rect x="535.51" y="471.76" width="5.2" height="10.89" fill="#9a55cf"/>
<rect x="535.51" y="482.65" width="5.2" height="13.31" fill="#c9461f"/>
<rect x="535.51" y="495.96" width="5.2" height="15.13" fill="#1a5cc9"/>
<rect x="535.51" y="511.09" width="5.2" height="13.31" fill="#c9c9c9"/>
<rect x="542.60" y="455.42" width="5.2" height="7.26" fill="#1ba3bd"/>
<rect x="542.60" y="462.68" width="5.2" height="7.26" fill="#e6c21c"/>
<rect x="542.60" y="469.94" width="5.2" height="12.10" fill="#9a55cf"/>
<rect x="542.60" y="482.04" width="5.2" height="13.31" fill="#c9461f"/>
<rect x="542.60" y="495.35" width="5.2" height="14.52" fill="#1a5cc9"/>
<rect x="542.60" y="509.88" width="5.2" height="14.52" fill="#c9c9c9"/>
<rect x="549.69" y="438.40" width="5.2" height="12.20" fill="#1ba3bd"/>
<rect x="549.69" y="450.60" width="5.2" height="6.60" fill="#e6c21c"/>
<rect x="549.69" y="457.20" width="5.2" height="14.60" fill="#9a55cf"/>
<rect x="549.69" y="471.80" width="5.2" height="16.50" fill="#c9461f"/>
<rect x="549.69" y="488.30" width="5.2" height="16.20" fill="#1a5cc9"/>
<rect x="549.69" y="504.50" width="5.2" height="19.90" fill="#c9c9c9"/>
<rect x="556.77" y="431.90" width="5.2" height="9.50" fill="#1ba3bd"/>
<rect x="556.77" y="441.40" width="5.2" height="8.00" fill="#e6c21c"/>
<rect x="556.77" y="449.40" width="5.2" height="16.00" fill="#9a55cf"/>
<rect x="556.77" y="465.40" width="5.2" height="17.00" fill="#c9461f"/>
<rect x="556.77" y="482.40" width="5.2" height="19.50" fill="#1a5cc9"/>
<rect x="556.77" y="501.90" width="5.2" height="22.50" fill="#c9c9c9"/>
<rect x="563.86" y="458.80" width="5.2" height="9.20" fill="#1ba3bd"/>
<rect x="563.86" y="468.00" width="5.2" height="6.00" fill="#e6c21c"/>
<rect x="563.86" y="474.00" width="5.2" height="10.40" fill="#9a55cf"/>
<rect x="563.86" y="484.40" width="5.2" height="14.00" fill="#c9461f"/>
<rect x="563.86" y="498.40" width="5.2" height="10.00" fill="#1a5cc9"/>
<rect x="563.86" y="508.40" width="5.2" height="16.00" fill="#c9c9c9"/>
<rect x="570.94" y="444.70" width="5.2" height="11.10" fill="#1ba3bd"/>
<rect x="570.94" y="455.80" width="5.2" height="6.50" fill="#e6c21c"/>
<rect x="570.94" y="462.30" width="5.2" height="15.70" fill="#9a55cf"/>
<rect x="570.94" y="478.00" width="5.2" height="14.90" fill="#c9461f"/>
<rect x="570.94" y="492.90" width="5.2" height="14.00" fill="#1a5cc9"/>
<rect x="570.94" y="506.90" width="5.2" height="17.50" fill="#c9c9c9"/>
<rect x="578.02" y="426.90" width="5.2" height="9.00" fill="#1ba3bd"/>
<rect x="578.02" y="435.90" width="5.2" height="8.00" fill="#e6c21c"/>
<rect x="578.02" y="443.90" width="5.2" height="17.50" fill="#9a55cf"/>
<rect x="578.02" y="461.40" width="5.2" height="19.50" fill="#c9461f"/>
<rect x="578.02" y="480.90" width="5.2" height="17.00" fill="#1a5cc9"/>
<rect x="578.02" y="497.90" width="5.2" height="26.50" fill="#c9c9c9"/>
<rect x="585.11" y="419.40" width="5.2" height="11.00" fill="#1ba3bd"/>
<rect x="585.11" y="430.40" width="5.2" height="7.50" fill="#e6c21c"/>
<rect x="585.11" y="437.90" width="5.2" height="19.40" fill="#9a55cf"/>
<rect x="585.11" y="457.30" width="5.2" height="23.60" fill="#c9461f"/>
<rect x="585.11" y="480.90" width="5.2" height="17.50" fill="#1a5cc9"/>
<rect x="585.11" y="498.40" width="5.2" height="26.00" fill="#c9c9c9"/>
<rect x="592.19" y="429.40" width="5.2" height="9.00" fill="#1ba3bd"/>
<rect x="592.19" y="438.40" width="5.2" height="7.50" fill="#e6c21c"/>
<rect x="592.19" y="445.90" width="5.2" height="19.30" fill="#9a55cf"/>
<rect x="592.19" y="465.20" width="5.2" height="21.20" fill="#c9461f"/>
<rect x="592.19" y="486.40" width="5.2" height="13.00" fill="#1a5cc9"/>
<rect x="592.19" y="499.40" width="5.2" height="25.00" fill="#c9c9c9"/>
<rect x="599.28" y="416.00" width="5.2" height="10.40" fill="#1ba3bd"/>
<rect x="599.28" y="426.40" width="5.2" height="8.50" fill="#e6c21c"/>
<rect x="599.28" y="434.90" width="5.2" height="17.90" fill="#9a55cf"/>
<rect x="599.28" y="452.80" width="5.2" height="22.70" fill="#c9461f"/>
<rect x="599.28" y="475.50" width="5.2" height="19.90" fill="#1a5cc9"/>
<rect x="599.28" y="495.40" width="5.2" height="29.00" fill="#c9c9c9"/>
<rect x="606.37" y="411.00" width="5.2" height="9.90" fill="#1ba3bd"/>
<rect x="606.37" y="420.90" width="5.2" height="8.50" fill="#e6c21c"/>
<rect x="606.37" y="429.40" width="5.2" height="21.40" fill="#9a55cf"/>
<rect x="606.37" y="450.80" width="5.2" height="24.70" fill="#c9461f"/>
<rect x="606.37" y="475.50" width="5.2" height="20.90" fill="#1a5cc9"/>
<rect x="606.37" y="496.40" width="5.2" height="28.00" fill="#c9c9c9"/>
<rect x="613.45" y="404.50" width="5.2" height="11.00" fill="#1ba3bd"/>
<rect x="613.45" y="415.50" width="5.2" height="8.90" fill="#e6c21c"/>
<rect x="613.45" y="424.40" width="5.2" height="21.00" fill="#9a55cf"/>
<rect x="613.45" y="445.40" width="5.2" height="24.10" fill="#c9461f"/>
<rect x="613.45" y="469.50" width="5.2" height="23.40" fill="#1a5cc9"/>
<rect x="613.45" y="492.90" width="5.2" height="31.50" fill="#c9c9c9"/>
<rect x="620.53" y="418.00" width="5.2" height="10.40" fill="#1ba3bd"/>
<rect x="620.53" y="428.40" width="5.2" height="11.50" fill="#e6c21c"/>
<rect x="620.53" y="439.90" width="5.2" height="19.90" fill="#9a55cf"/>
<rect x="620.53" y="459.80" width="5.2" height="19.10" fill="#c9461f"/>
<rect x="620.53" y="478.90" width="5.2" height="25.00" fill="#1a5cc9"/>
<rect x="620.53" y="503.90" width="5.2" height="20.50" fill="#c9c9c9"/>
<rect x="627.62" y="404.20" width="5.2" height="12.80" fill="#1ba3bd"/>
<rect x="627.62" y="417.00" width="5.2" height="9.40" fill="#e6c21c"/>
<rect x="627.62" y="426.40" width="5.2" height="22.50" fill="#9a55cf"/>
<rect x="627.62" y="448.90" width="5.2" height="25.10" fill="#c9461f"/>
<rect x="627.62" y="474.00" width="5.2" height="25.90" fill="#1a5cc9"/>
<rect x="627.62" y="499.90" width="5.2" height="24.50" fill="#c9c9c9"/>
<rect x="634.70" y="406.50" width="5.2" height="12.40" fill="#1ba3bd"/>
<rect x="634.70" y="418.90" width="5.2" height="10.00" fill="#e6c21c"/>
<rect x="634.70" y="428.90" width="5.2" height="20.00" fill="#9a55cf"/>
<rect x="634.70" y="448.90" width="5.2" height="22.10" fill="#c9461f"/>
<rect x="634.70" y="471.00" width="5.2" height="29.90" fill="#1a5cc9"/>
<rect x="634.70" y="500.90" width="5.2" height="23.50" fill="#c9c9c9"/>
<rect x="641.79" y="379.90" width="5.2" height="14.90" fill="#1ba3bd"/>
<rect x="641.79" y="394.80" width="5.2" height="10.70" fill="#e6c21c"/>
<rect x="641.79" y="405.50" width="5.2" height="29.90" fill="#9a55cf"/>
<rect x="641.79" y="435.40" width="5.2" height="22.90" fill="#c9461f"/>
<rect x="641.79" y="458.30" width="5.2" height="37.10" fill="#1a5cc9"/>
<rect x="641.79" y="495.40" width="5.2" height="29.00" fill="#c9c9c9"/>
<rect x="648.88" y="421.70" width="5.2" height="12.20" fill="#1ba3bd"/>
<rect x="648.88" y="433.90" width="5.2" height="7.50" fill="#e6c21c"/>
<rect x="648.88" y="441.40" width="5.2" height="14.40" fill="#9a55cf"/>
<rect x="648.88" y="455.80" width="5.2" height="23.10" fill="#c9461f"/>
<rect x="648.88" y="478.90" width="5.2" height="12.50" fill="#1a5cc9"/>
<rect x="648.88" y="491.40" width="5.2" height="33.00" fill="#c9c9c9"/>
<rect x="655.96" y="383.30" width="5.2" height="13.70" fill="#1ba3bd"/>
<rect x="655.96" y="397.00" width="5.2" height="9.50" fill="#e6c21c"/>
<rect x="655.96" y="406.50" width="5.2" height="25.90" fill="#9a55cf"/>
<rect x="655.96" y="432.40" width="5.2" height="24.90" fill="#c9461f"/>
<rect x="655.96" y="457.30" width="5.2" height="29.10" fill="#1a5cc9"/>
<rect x="655.96" y="486.40" width="5.2" height="38.00" fill="#c9c9c9"/>
<rect x="663.04" y="343.50" width="5.2" height="19.90" fill="#1ba3bd"/>
<rect x="663.04" y="363.40" width="5.2" height="14.50" fill="#e6c21c"/>
<rect x="663.04" y="377.90" width="5.2" height="38.00" fill="#9a55cf"/>
<rect x="663.04" y="415.90" width="5.2" height="33.40" fill="#c9461f"/>
<rect x="663.04" y="449.30" width="5.2" height="35.60" fill="#1a5cc9"/>
<rect x="663.04" y="484.90" width="5.2" height="39.50" fill="#c9c9c9"/>
<rect x="670.13" y="339.20" width="5.2" height="18.70" fill="#1ba3bd"/>
<rect x="670.13" y="357.90" width="5.2" height="15.00" fill="#e6c21c"/>
<rect x="670.13" y="372.90" width="5.2" height="33.60" fill="#9a55cf"/>
<rect x="670.13" y="406.50" width="5.2" height="37.90" fill="#c9461f"/>
<rect x="670.13" y="444.40" width="5.2" height="35.50" fill="#1a5cc9"/>
<rect x="670.13" y="479.90" width="5.2" height="44.50" fill="#c9c9c9"/>
<rect x="677.21" y="343.50" width="5.2" height="18.90" fill="#1ba3bd"/>
<rect x="677.21" y="362.40" width="5.2" height="14.00" fill="#e6c21c"/>
<rect x="677.21" y="376.40" width="5.2" height="43.50" fill="#9a55cf"/>
<rect x="677.21" y="419.90" width="5.2" height="34.40" fill="#c9461f"/>
<rect x="677.21" y="454.30" width="5.2" height="25.60" fill="#1a5cc9"/>
<rect x="677.21" y="479.90" width="5.2" height="44.50" fill="#c9c9c9"/>
<rect x="684.30" y="336.00" width="5.2" height="16.40" fill="#1ba3bd"/>
<rect x="684.30" y="352.40" width="5.2" height="14.00" fill="#e6c21c"/>
<rect x="684.30" y="366.40" width="5.2" height="51.50" fill="#9a55cf"/>
<rect x="684.30" y="417.90" width="5.2" height="27.00" fill="#c9461f"/>
<rect x="684.30" y="444.90" width="5.2" height="26.10" fill="#1a5cc9"/>
<rect x="684.30" y="471.00" width="5.2" height="53.40" fill="#c9c9c9"/>
<rect x="691.38" y="351.70" width="5.2" height="14.20" fill="#1ba3bd"/>
<rect x="691.38" y="365.90" width="5.2" height="14.40" fill="#e6c21c"/>
<rect x="691.38" y="380.30" width="5.2" height="32.60" fill="#9a55cf"/>
<rect x="691.38" y="412.90" width="5.2" height="36.40" fill="#c9461f"/>
<rect x="691.38" y="449.30" width="5.2" height="23.70" fill="#1a5cc9"/>
<rect x="691.38" y="473.00" width="5.2" height="51.40" fill="#c9c9c9"/>
<rect x="698.47" y="369.90" width="5.2" height="13.90" fill="#1ba3bd"/>
<rect x="698.47" y="383.80" width="5.2" height="10.50" fill="#e6c21c"/>
<rect x="698.47" y="394.30" width="5.2" height="30.60" fill="#9a55cf"/>
<rect x="698.47" y="424.90" width="5.2" height="32.90" fill="#c9461f"/>
<rect x="698.47" y="457.80" width="5.2" height="23.60" fill="#1a5cc9"/>
<rect x="698.47" y="481.40" width="5.2" height="43.00" fill="#c9c9c9"/>
<rect x="705.55" y="388.30" width="5.2" height="9.50" fill="#1ba3bd"/>
<rect x="705.55" y="397.80" width="5.2" height="12.20" fill="#e6c21c"/>
<rect x="705.55" y="410.00" width="5.2" height="24.90" fill="#9a55cf"/>
<rect x="705.55" y="434.90" width="5.2" height="25.90" fill="#c9461f"/>
<rect x="705.55" y="460.80" width="5.2" height="22.10" fill="#1a5cc9"/>
<rect x="705.55" y="482.90" width="5.2" height="41.50" fill="#c9c9c9"/>
<rect x="712.64" y="381.30" width="5.2" height="7.50" fill="#1ba3bd"/>
<rect x="712.64" y="388.80" width="5.2" height="10.70" fill="#e6c21c"/>
<rect x="712.64" y="399.50" width="5.2" height="32.90" fill="#9a55cf"/>
<rect x="712.64" y="432.40" width="5.2" height="26.40" fill="#c9461f"/>
<rect x="712.64" y="458.80" width="5.2" height="19.10" fill="#1a5cc9"/>
<rect x="712.64" y="477.90" width="5.2" height="46.50" fill="#c9c9c9"/>
<rect x="719.73" y="388.80" width="5.2" height="8.00" fill="#1ba3bd"/>
<rect x="719.73" y="396.80" width="5.2" height="11.70" fill="#e6c21c"/>
<rect x="719.73" y="408.50" width="5.2" height="31.40" fill="#9a55cf"/>
<rect x="719.73" y="439.90" width="5.2" height="28.10" fill="#c9461f"/>
<rect x="719.73" y="468.00" width="5.2" height="18.90" fill="#1a5cc9"/>
<rect x="719.73" y="486.90" width="5.2" height="37.50" fill="#c9c9c9"/>
<rect x="726.81" y="393.40" width="5.2" height="11.90" fill="#1ba3bd"/>
<rect x="726.81" y="405.30" width="5.2" height="9.20" fill="#e6c21c"/>
<rect x="726.81" y="414.50" width="5.2" height="25.60" fill="#9a55cf"/>
<rect x="726.81" y="440.10" width="5.2" height="27.60" fill="#c9461f"/>
<rect x="726.81" y="467.70" width="5.2" height="17.60" fill="#1a5cc9"/>
<rect x="726.81" y="485.30" width="5.2" height="39.10" fill="#c9c9c9"/>
<rect x="733.89" y="409.30" width="5.2" height="13.10" fill="#1ba3bd"/>
<rect x="733.89" y="422.40" width="5.2" height="7.40" fill="#e6c21c"/>
<rect x="733.89" y="429.80" width="5.2" height="31.00" fill="#9a55cf"/>
<rect x="733.89" y="460.80" width="5.2" height="22.30" fill="#c9461f"/>
<rect x="733.89" y="483.10" width="5.2" height="13.10" fill="#1a5cc9"/>
<rect x="733.89" y="496.20" width="5.2" height="28.20" fill="#c9c9c9"/>
<rect x="740.98" y="375.50" width="5.2" height="13.30" fill="#1ba3bd"/>
<rect x="740.98" y="388.80" width="5.2" height="11.40" fill="#e6c21c"/>
<rect x="740.98" y="400.20" width="5.2" height="30.80" fill="#9a55cf"/>
<rect x="740.98" y="431.00" width="5.2" height="33.30" fill="#c9461f"/>
<rect x="740.98" y="464.30" width="5.2" height="18.80" fill="#1a5cc9"/>
<rect x="740.98" y="483.10" width="5.2" height="41.30" fill="#c9c9c9"/>
<rect x="748.06" y="375.70" width="5.2" height="12.00" fill="#1ba3bd"/>
<rect x="748.06" y="387.70" width="5.2" height="14.20" fill="#e6c21c"/>
<rect x="748.06" y="401.90" width="5.2" height="33.60" fill="#9a55cf"/>
<rect x="748.06" y="435.50" width="5.2" height="31.60" fill="#c9461f"/>
<rect x="748.06" y="467.10" width="5.2" height="17.70" fill="#1a5cc9"/>
<rect x="748.06" y="484.80" width="5.2" height="39.60" fill="#c9c9c9"/>
<rect x="755.15" y="394.20" width="5.2" height="8.90" fill="#1ba3bd"/>
<rect x="755.15" y="403.10" width="5.2" height="9.10" fill="#e6c21c"/>
<rect x="755.15" y="412.20" width="5.2" height="27.90" fill="#9a55cf"/>
<rect x="755.15" y="440.10" width="5.2" height="34.40" fill="#c9461f"/>
<rect x="755.15" y="474.50" width="5.2" height="18.60" fill="#1a5cc9"/>
<rect x="755.15" y="493.10" width="5.2" height="31.30" fill="#c9c9c9"/>
<rect x="762.24" y="377.10" width="5.2" height="8.90" fill="#1ba3bd"/>
<rect x="762.24" y="386.00" width="5.2" height="10.80" fill="#e6c21c"/>
<rect x="762.24" y="396.80" width="5.2" height="34.80" fill="#9a55cf"/>
<rect x="762.24" y="431.60" width="5.2" height="32.10" fill="#c9461f"/>
<rect x="762.24" y="463.70" width="5.2" height="19.40" fill="#1a5cc9"/>
<rect x="762.24" y="483.10" width="5.2" height="41.30" fill="#c9c9c9"/>
<rect x="769.32" y="386.50" width="5.2" height="8.00" fill="#1ba3bd"/>
<rect x="769.32" y="394.50" width="5.2" height="13.70" fill="#e6c21c"/>
<rect x="769.32" y="408.20" width="5.2" height="22.20" fill="#9a55cf"/>
<rect x="769.32" y="430.40" width="5.2" height="25.30" fill="#c9461f"/>
<rect x="769.32" y="455.70" width="5.2" height="22.20" fill="#1a5cc9"/>
<rect x="769.32" y="477.90" width="5.2" height="46.50" fill="#c9c9c9"/>
<rect x="776.40" y="406.50" width="5.2" height="5.70" fill="#1ba3bd"/>
<rect x="776.40" y="412.20" width="5.2" height="9.10" fill="#e6c21c"/>
<rect x="776.40" y="421.30" width="5.2" height="22.80" fill="#9a55cf"/>
<rect x="776.40" y="444.10" width="5.2" height="28.10" fill="#c9461f"/>
<rect x="776.40" y="472.20" width="5.2" height="20.00" fill="#1a5cc9"/>
<rect x="776.40" y="492.20" width="5.2" height="32.20" fill="#c9c9c9"/>
<rect x="783.49" y="408.20" width="5.2" height="6.30" fill="#1ba3bd"/>
<rect x="783.49" y="414.50" width="5.2" height="9.60" fill="#e6c21c"/>
<rect x="783.49" y="424.10" width="5.2" height="22.30" fill="#9a55cf"/>
<rect x="783.49" y="446.40" width="5.2" height="28.70" fill="#c9461f"/>
<rect x="783.49" y="475.10" width="5.2" height="21.10" fill="#1a5cc9"/>
<rect x="783.49" y="496.20" width="5.2" height="28.20" fill="#c9c9c9"/>
<rect x="790.57" y="427.60" width="5.2" height="6.80" fill="#1ba3bd"/>
<rect x="790.57" y="434.40" width="5.2" height="9.70" fill="#e6c21c"/>
<rect x="790.57" y="444.10" width="5.2" height="15.60" fill="#9a55cf"/>
<rect x="790.57" y="459.70" width="5.2" height="19.40" fill="#c9461f"/>
<rect x="790.57" y="479.10" width="5.2" height="19.90" fill="#1a5cc9"/>
<rect x="790.57" y="499.00" width="5.2" height="25.40" fill="#c9c9c9"/>
<rect x="797.66" y="427.60" width="5.2" height="6.20" fill="#1ba3bd"/>
<rect x="797.66" y="433.80" width="5.2" height="9.20" fill="#e6c21c"/>
<rect x="797.66" y="443.00" width="5.2" height="12.70" fill="#9a55cf"/>
<rect x="797.66" y="455.70" width="5.2" height="21.10" fill="#c9461f"/>
<rect x="797.66" y="476.80" width="5.2" height="21.10" fill="#1a5cc9"/>
<rect x="797.66" y="497.90" width="5.2" height="26.50" fill="#c9c9c9"/>
<rect x="804.75" y="425.60" width="5.2" height="5.40" fill="#1ba3bd"/>
<rect x="804.75" y="431.00" width="5.2" height="8.50" fill="#e6c21c"/>
<rect x="804.75" y="439.50" width="5.2" height="17.30" fill="#9a55cf"/>
<rect x="804.75" y="456.80" width="5.2" height="22.30" fill="#c9461f"/>
<rect x="804.75" y="479.10" width="5.2" height="17.10" fill="#1a5cc9"/>
<rect x="804.75" y="496.20" width="5.2" height="28.20" fill="#c9c9c9"/>
<rect x="811.83" y="398.80" width="5.2" height="7.20" fill="#1ba3bd"/>
<rect x="811.83" y="406.00" width="5.2" height="8.90" fill="#e6c21c"/>
<rect x="811.83" y="414.90" width="5.2" height="17.50" fill="#9a55cf"/>
<rect x="811.83" y="432.40" width="5.2" height="24.50" fill="#c9461f"/>
<rect x="811.83" y="456.90" width="5.2" height="25.30" fill="#1a5cc9"/>
<rect x="811.83" y="482.20" width="5.2" height="42.20" fill="#c9c9c9"/>
<rect x="818.91" y="442.30" width="5.2" height="6.00" fill="#1ba3bd"/>
<rect x="818.91" y="448.30" width="5.2" height="6.50" fill="#e6c21c"/>
<rect x="818.91" y="454.80" width="5.2" height="13.00" fill="#9a55cf"/>
<rect x="818.91" y="467.80" width="5.2" height="18.70" fill="#c9461f"/>
<rect x="818.91" y="486.50" width="5.2" height="13.40" fill="#1a5cc9"/>
<rect x="818.91" y="499.90" width="5.2" height="24.50" fill="#c9c9c9"/>
<rect x="826.00" y="417.70" width="5.2" height="8.20" fill="#1ba3bd"/>
<rect x="826.00" y="425.90" width="5.2" height="8.50" fill="#e6c21c"/>
<rect x="826.00" y="434.40" width="5.2" height="19.40" fill="#9a55cf"/>
<rect x="826.00" y="453.80" width="5.2" height="19.90" fill="#c9461f"/>
<rect x="826.00" y="473.70" width="5.2" height="20.30" fill="#1a5cc9"/>
<rect x="826.00" y="494.00" width="5.2" height="30.40" fill="#c9c9c9"/>
<rect x="833.08" y="410.70" width="5.2" height="7.20" fill="#1ba3bd"/>
<rect x="833.08" y="417.90" width="5.2" height="6.00" fill="#e6c21c"/>
<rect x="833.08" y="423.90" width="5.2" height="24.40" fill="#9a55cf"/>
<rect x="833.08" y="448.30" width="5.2" height="21.10" fill="#c9461f"/>
<rect x="833.08" y="469.40" width="5.2" height="20.30" fill="#1a5cc9"/>
<rect x="833.08" y="489.70" width="5.2" height="34.70" fill="#c9c9c9"/>
<rect x="840.17" y="417.10" width="5.2" height="9.80" fill="#1ba3bd"/>
<rect x="840.17" y="426.90" width="5.2" height="8.50" fill="#e6c21c"/>
<rect x="840.17" y="435.40" width="5.2" height="16.40" fill="#9a55cf"/>
<rect x="840.17" y="451.80" width="5.2" height="23.50" fill="#c9461f"/>
<rect x="840.17" y="475.30" width="5.2" height="21.40" fill="#1a5cc9"/>
<rect x="840.17" y="496.70" width="5.2" height="27.70" fill="#c9c9c9"/>
<rect x="847.25" y="409.40" width="5.2" height="7.00" fill="#1ba3bd"/>
<rect x="847.25" y="416.40" width="5.2" height="9.50" fill="#e6c21c"/>
<rect x="847.25" y="425.90" width="5.2" height="16.90" fill="#9a55cf"/>
<rect x="847.25" y="442.80" width="5.2" height="23.40" fill="#c9461f"/>
<rect x="847.25" y="466.20" width="5.2" height="23.00" fill="#1a5cc9"/>
<rect x="847.25" y="489.20" width="5.2" height="35.20" fill="#c9c9c9"/>
<rect x="854.34" y="407.10" width="5.2" height="10.30" fill="#1ba3bd"/>
<rect x="854.34" y="417.40" width="5.2" height="8.50" fill="#e6c21c"/>
<rect x="854.34" y="425.90" width="5.2" height="16.40" fill="#9a55cf"/>
<rect x="854.34" y="442.30" width="5.2" height="18.00" fill="#c9461f"/>
<rect x="854.34" y="460.30" width="5.2" height="24.60" fill="#1a5cc9"/>
<rect x="854.34" y="484.90" width="5.2" height="39.50" fill="#c9c9c9"/>
<rect x="861.42" y="413.10" width="5.2" height="9.80" fill="#1ba3bd"/>
<rect x="861.42" y="422.90" width="5.2" height="8.50" fill="#e6c21c"/>
<rect x="861.42" y="431.40" width="5.2" height="15.90" fill="#9a55cf"/>
<rect x="861.42" y="447.30" width="5.2" height="18.90" fill="#c9461f"/>
<rect x="861.42" y="466.20" width="5.2" height="20.30" fill="#1a5cc9"/>
<rect x="861.42" y="486.50" width="5.2" height="37.90" fill="#c9c9c9"/>
<rect x="868.51" y="421.90" width="5.2" height="8.00" fill="#1ba3bd"/>
<rect x="868.51" y="429.90" width="5.2" height="9.00" fill="#e6c21c"/>
<rect x="868.51" y="438.90" width="5.2" height="14.90" fill="#9a55cf"/>
<rect x="868.51" y="453.80" width="5.2" height="17.80" fill="#c9461f"/>
<rect x="868.51" y="471.60" width="5.2" height="19.20" fill="#1a5cc9"/>
<rect x="868.51" y="490.80" width="5.2" height="33.60" fill="#c9c9c9"/>
<rect x="875.60" y="430.40" width="5.2" height="8.50" fill="#1ba3bd"/>
<rect x="875.60" y="438.90" width="5.2" height="8.40" fill="#e6c21c"/>
<rect x="875.60" y="447.30" width="5.2" height="14.60" fill="#9a55cf"/>
<rect x="875.60" y="461.90" width="5.2" height="17.10" fill="#c9461f"/>
<rect x="875.60" y="479.00" width="5.2" height="20.90" fill="#1a5cc9"/>
<rect x="875.60" y="499.90" width="5.2" height="24.50" fill="#c9c9c9"/>
<rect x="882.68" y="429.40" width="5.2" height="8.00" fill="#1ba3bd"/>
<rect x="882.68" y="437.40" width="5.2" height="8.90" fill="#e6c21c"/>
<rect x="882.68" y="446.30" width="5.2" height="17.80" fill="#9a55cf"/>
<rect x="882.68" y="464.10" width="5.2" height="19.20" fill="#c9461f"/>
<rect x="882.68" y="483.30" width="5.2" height="19.80" fill="#1a5cc9"/>
<rect x="882.68" y="503.10" width="5.2" height="21.30" fill="#c9c9c9"/>
<rect x="889.76" y="413.10" width="5.2" height="5.80" fill="#1ba3bd"/>
<rect x="889.76" y="418.90" width="5.2" height="9.00" fill="#e6c21c"/>
<rect x="889.76" y="427.90" width="5.2" height="19.40" fill="#9a55cf"/>
<rect x="889.76" y="447.30" width="5.2" height="19.50" fill="#c9461f"/>
<rect x="889.76" y="466.80" width="5.2" height="19.70" fill="#1a5cc9"/>
<rect x="889.76" y="486.50" width="5.2" height="37.90" fill="#c9c9c9"/>
<rect x="896.85" y="398.00" width="5.2" height="10.90" fill="#1ba3bd"/>
<rect x="896.85" y="408.90" width="5.2" height="11.50" fill="#e6c21c"/>
<rect x="896.85" y="420.40" width="5.2" height="19.50" fill="#9a55cf"/>
<rect x="896.85" y="439.90" width="5.2" height="24.20" fill="#c9461f"/>
<rect x="896.85" y="464.10" width="5.2" height="23.00" fill="#1a5cc9"/>
<rect x="896.85" y="487.10" width="5.2" height="37.30" fill="#c9c9c9"/>
<rect x="903.93" y="446.30" width="5.2" height="5.50" fill="#1ba3bd"/>
<rect x="903.93" y="451.80" width="5.2" height="8.00" fill="#e6c21c"/>
<rect x="903.93" y="459.80" width="5.2" height="11.80" fill="#9a55cf"/>
<rect x="903.93" y="471.60" width="5.2" height="13.90" fill="#c9461f"/>
<rect x="903.93" y="485.50" width="5.2" height="14.90" fill="#1a5cc9"/>
<rect x="903.93" y="500.40" width="5.2" height="24.00" fill="#c9c9c9"/>
<rect x="911.02" y="413.90" width="5.2" height="9.00" fill="#1ba3bd"/>
<rect x="911.02" y="422.90" width="5.2" height="11.00" fill="#e6c21c"/>
<rect x="911.02" y="433.90" width="5.2" height="18.90" fill="#9a55cf"/>
<rect x="911.02" y="452.80" width="5.2" height="19.30" fill="#c9461f"/>
<rect x="911.02" y="472.10" width="5.2" height="22.40" fill="#1a5cc9"/>
<rect x="911.02" y="494.50" width="5.2" height="29.90" fill="#c9c9c9"/>
<rect x="918.11" y="473.20" width="5.2" height="4.80" fill="#1ba3bd"/>
<rect x="918.11" y="478.00" width="5.2" height="4.30" fill="#e6c21c"/>
<rect x="918.11" y="482.30" width="5.2" height="4.80" fill="#9a55cf"/>
<rect x="918.11" y="487.10" width="5.2" height="6.90" fill="#c9461f"/>
<rect x="918.11" y="494.00" width="5.2" height="15.00" fill="#1a5cc9"/>
<rect x="918.11" y="509.00" width="5.2" height="15.40" fill="#c9c9c9"/>
<rect x="925.19" y="496.10" width="5.2" height="4.40" fill="#1ba3bd"/>
<rect x="925.19" y="500.50" width="5.2" height="1.50" fill="#e6c21c"/>
<rect x="925.19" y="502.00" width="5.2" height="1.50" fill="#9a55cf"/>
<rect x="925.19" y="503.50" width="5.2" height="2.30" fill="#c9461f"/>
<rect x="925.19" y="505.80" width="5.2" height="12.80" fill="#1a5cc9"/>
<rect x="925.19" y="518.60" width="5.2" height="5.80" fill="#c9c9c9"/>
<line x1="46.6" y1="220.5" x2="942" y2="220.5" class="g"/>
<line x1="957.2" y1="220.5" x2="1000" y2="220.5" class="g"/>
<line x1="46.6" y1="296.8" x2="942" y2="296.8" class="g"/>
<line x1="957.2" y1="296.8" x2="1000" y2="296.8" class="g"/>
<line x1="46.6" y1="373.0" x2="942" y2="373.0" class="g"/>
<line x1="957.2" y1="373.0" x2="1000" y2="373.0" class="g"/>
<line x1="46.6" y1="449.4" x2="942" y2="449.4" class="g"/>
<line x1="957.2" y1="449.4" x2="1000" y2="449.4" class="g"/>
<rect x="46" y="524.4" width="954" height="2" fill="#c8c8c8"/>
<rect x="48.45" y="524.4" width="1.6" height="10.8" fill="#c8c8c8"/>
<rect x="133.47" y="524.4" width="1.6" height="10.8" fill="#c8c8c8"/>
<rect x="218.49" y="524.4" width="1.6" height="10.8" fill="#c8c8c8"/>
<rect x="303.51" y="524.4" width="1.6" height="10.8" fill="#c8c8c8"/>
<rect x="388.53" y="524.4" width="1.6" height="10.8" fill="#c8c8c8"/>
<rect x="473.55" y="524.4" width="1.6" height="10.8" fill="#c8c8c8"/>
<rect x="558.57" y="524.4" width="1.6" height="10.8" fill="#c8c8c8"/>
<rect x="643.59" y="524.4" width="1.6" height="10.8" fill="#c8c8c8"/>
<rect x="728.61" y="524.4" width="1.6" height="10.8" fill="#c8c8c8"/>
<rect x="813.63" y="524.4" width="1.6" height="10.8" fill="#c8c8c8"/>
<rect x="898.65" y="524.4" width="1.6" height="10.8" fill="#c8c8c8"/>
<polyline points="49.25,429.0 56.34,445.6 63.42,450.0 70.50,431.0 77.59,432.0 84.67,440.8 91.76,443.2 98.84,440.3 105.93,435.4 113.02,448.1 120.10,453.5 127.19,432.3 134.27,439.8 141.36,465.2 148.44,446.1 155.53,434.4 162.61,439.8 169.69,442.7 176.78,439.3 183.87,431.0 190.95,441.3 198.03,447.6 205.12,440.3 212.21,433.2 219.29,436.7 226.38,467.1 233.46,433.5 240.54,434.0 247.63,426.5 254.72,431.9 261.80,438.8 268.88,427.6 275.97,436.7 283.06,427.1 290.14,415.8 297.23,404.5 304.31,415.0 311.39,426.3 318.48,427.4 325.56,413.0 332.65,399.1 339.74,414.6 346.82,414.0 353.90,413.5 360.99,411.9 368.07,429.0 375.16,424.7 382.25,420.8 389.33,413.6 396.42,458.6 403.50,423.3 410.58,422.8 417.67,416.4 424.75,419.0 431.84,412.1 438.93,416.9 446.01,419.0 453.09,418.0 460.18,422.8 467.26,403.9 474.35,404.2 481.44,483.7 488.52,422.4 495.61,407.4 502.69,421.6 509.77,429.1 516.86,420.1 523.94,419.4 531.03,411.9 538.12,412.7 545.20,406.3 552.29,387.2 559.37,367.5 566.46,410.3 573.54,393.2 580.62,359.8 587.71,348.7 594.79,343.6 601.88,335.9 608.97,324.8 616.05,313.7 623.13,331.6 630.22,328.6 637.30,310.3 644.39,272.2 651.48,343.2 658.56,270.3 665.64,236.5 672.73,215.9 679.81,232.0 686.90,202.7 693.99,232.0 701.07,262.0 708.15,303.5 715.24,289.0 722.33,296.8 729.41,282.7 736.50,334.5 743.58,275.7 750.66,274.1 757.75,302.3 764.84,297.6 771.92,307.0 779.00,332.1 786.09,325.0 793.17,352.5 800.26,357.7 807.35,349.8 814.43,307.2 821.51,388.0 828.60,344.1 835.68,333.1 842.77,337.8 849.86,330.8 856.94,328.4 864.02,333.1 871.11,349.6 878.20,359.0 885.28,357.5 892.37,341.5 899.45,310.6 906.53,398.7 913.62,338.8 920.71,438.0 927.79,480.0" fill="none" stroke="#ec942b" stroke-width="5" stroke-linejoin="round" stroke-linecap="round"/>
<line x1="25.2" y1="140" x2="44.2" y2="121.4" stroke="#ec942b" stroke-width="4.5"/>
</svg>
<div class="t" id="title" style="left:23.97px;top:36.64px;font-size:28.8px;font-weight:bold;color:#ffffff;transform:scaleX(0.9623)">Chinese Magnet Exports Down by 76% in May</div>
<div class="t" id="sub" style="left:23.58px;top:71.43px;font-size:25.5px;color:#f4f4f4;transform:scaleX(0.9192)">Shipments to the US down by 92% from a year earlier</div>
<div class="t" id="lg1" style="left:54.62px;top:118.30px;font-size:24.0px;color:#dcdcdc;transform:scaleX(0.9377)">Grand Total</div>
<div class="t" id="lg2" style="left:225.95px;top:118.30px;font-size:24.0px;color:#dcdcdc;transform:scaleX(0.8803)">Germany</div>
<div class="t" id="lg3" style="left:369.18px;top:118.30px;font-size:24.0px;color:#dcdcdc;transform:scaleX(0.8831)">Vietnam</div>
<div class="t" id="lg4" style="left:499.08px;top:118.30px;font-size:24.0px;color:#dcdcdc;transform:scaleX(0.9121)">United States</div>
<div class="t" id="lg5" style="left:690.94px;top:118.30px;font-size:24.0px;color:#dcdcdc;transform:scaleX(0.9264)">South Korea</div>
<div class="t" id="lg6" style="left:870.00px;top:118.30px;font-size:24.0px;color:#dcdcdc;transform:scaleX(0.9511)">Japan</div>
<div class="t" id="lg7" style="left:52.53px;top:148.10px;font-size:24.0px;color:#dcdcdc;transform:scaleX(0.8915)">Thailand</div>
<div class="t" id="y400" style="left:864.93px;top:186.56px;font-size:23.1px;color:#d8d8d8;transform:scaleX(0.9361)"><span style="letter-spacing:3px">$</span>400 million</div>
<div class="t" id="y300" style="left:963.31px;top:262.86px;font-size:23.1px;color:#d8d8d8;transform:scaleX(0.8821)">300</div>
<div class="t" id="y200" style="left:963.82px;top:339.06px;font-size:23.1px;color:#d8d8d8;transform:scaleX(0.8807)">200</div>
<div class="t" id="y100" style="left:963.60px;top:415.46px;font-size:23.1px;color:#d8d8d8;transform:scaleX(0.8843)">100</div>
<div class="t" id="y0" style="left:988.31px;top:491.66px;font-size:23.1px;color:#d8d8d8;transform:scaleX(0.9150)">0</div>
<div class="t" id="src" style="left:22.39px;top:610.89px;font-size:20.7px;color:#d4d4d4;transform:scaleX(0.9880)">Source: China's General Administration of Customs</div>
<div class="t" id="note" style="left:21.39px;top:635.79px;font-size:20.7px;color:#d4d4d4;transform:scaleX(0.9905)">Note: Shows exports under HS# 85051110 - "Permanent magnets/articles</div>
<div class="t" id="going" style="left:22.42px;top:660.29px;font-size:20.7px;color:#d4d4d4;transform:scaleX(1.0016)">going to be permanent magnets, of rare-earth metals"</div>
<div class="t" id="x0" style="left:23.51px;top:545.64px;font-size:23.0px;color:#d8d8d8;transform:scaleX(0.8693)">2015</div>
<div class="t" id="x1" style="left:117.30px;top:545.64px;font-size:23.0px;color:#d8d8d8;transform:scaleX(0.9393)">'16</div>
<div class="t" id="x2" style="left:201.91px;top:545.64px;font-size:23.0px;color:#d8d8d8;transform:scaleX(0.9382)">'17</div>
<div class="t" id="x3" style="left:287.40px;top:545.64px;font-size:23.0px;color:#d8d8d8;transform:scaleX(0.9393)">'18</div>
<div class="t" id="x4" style="left:371.97px;top:545.64px;font-size:23.0px;color:#d8d8d8;transform:scaleX(0.9393)">'19</div>
<div class="t" id="x5" style="left:457.45px;top:545.64px;font-size:23.0px;color:#d8d8d8;transform:scaleX(0.9393)">'20</div>
<div class="t" id="x6" style="left:542.01px;top:545.64px;font-size:23.0px;color:#d8d8d8;transform:scaleX(0.9382)">'21</div>
<div class="t" id="x7" style="left:627.49px;top:545.64px;font-size:23.0px;color:#d8d8d8;transform:scaleX(0.9394)">'22</div>
<div class="t" id="x8" style="left:712.04px;top:545.64px;font-size:23.0px;color:#d8d8d8;transform:scaleX(0.9382)">'23</div>
<div class="t" id="x9" style="left:797.64px;top:545.64px;font-size:23.0px;color:#d8d8d8;transform:scaleX(0.9069)">'24</div>
<div class="t" id="x10" style="left:874.69px;top:545.64px;font-size:23.0px;color:#d8d8d8;transform:scaleX(0.8586)">2025</div>
<div class="t" id="bbg" style="left:874.00px;top:652.23px;font-size:23.6px;font-weight:bold;font-family:'Liberation Sans',sans-serif;color:#ffffff;transform:scaleX(0.9444)">Bloomberg</div>
<div class="sq" style="left:201.1px;top:122.3px;background:#c9c9c9"></div>
<div class="sq" style="left:343.2px;top:122.3px;background:#1a5cc9"></div>
<div class="sq" style="left:475.3px;top:122.3px;background:#c9461f"></div>
<div class="sq" style="left:667.4px;top:122.3px;background:#9a55cf"></div>
<div class="sq" style="left:844.0px;top:122.3px;background:#e6c21c"></div>
<div class="sq" style="left:26.2px;top:151.8px;background:#1ba3bd"></div>
</body></html>
